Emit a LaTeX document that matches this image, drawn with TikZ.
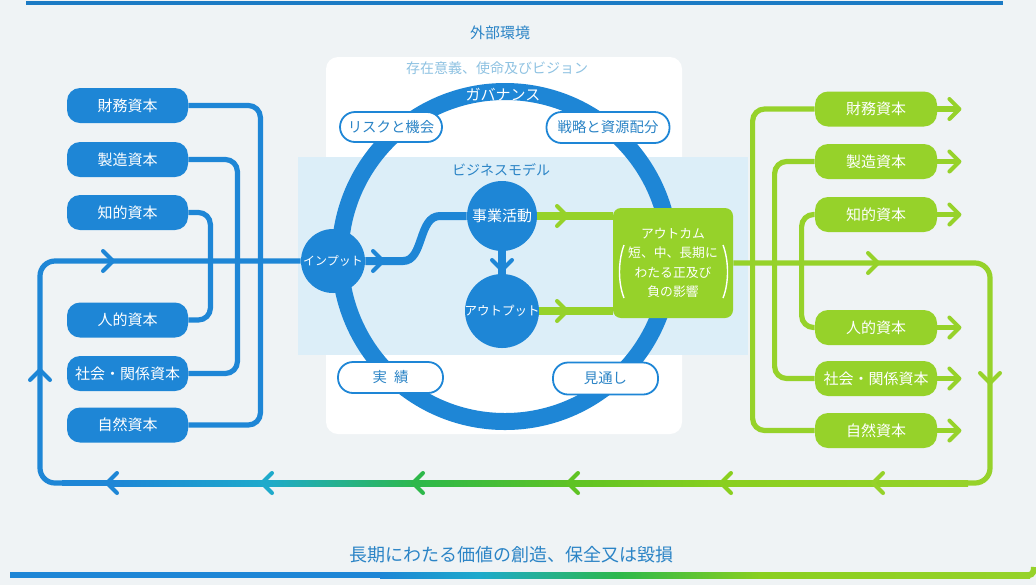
\documentclass[tikz,border=0pt]{standalone}
\usepackage{fontspec}
\newfontfamily\jp{Noto Sans CJK JP}
\usetikzlibrary{calc}
\definecolor{bg}{HTML}{EFF3F5}
\definecolor{cblue}{HTML}{1E86D6}
\definecolor{ctop}{HTML}{1B7AC4}
\definecolor{clime}{HTML}{96D22A}
\definecolor{ctxt}{HTML}{2B84C6}
\definecolor{clight}{HTML}{8EC2E2}
\definecolor{cpanel}{HTML}{DCEEF8}
\definecolor{cteal}{HTML}{1EAACB}
\definecolor{cgreen}{HTML}{2DB84A}
\definecolor{cyg}{HTML}{5FC324}
\definecolor{clg}{HTML}{8ACF1F}
\tikzset{
  capL/.style={fill=cblue, text=white, rounded corners=6.5pt, minimum width=60.5pt, minimum height=17.5pt, inner sep=0pt, font=\jp\fontsize{7.5pt}{9pt}\selectfont},
  capR/.style={capL, fill=clime, minimum width=61pt},
  bconn/.style={draw=cblue, line width=2.6pt, rounded corners=6pt},
  gconn/.style={draw=clime, line width=2.6pt, rounded corners=6pt},
  govbox/.style={draw=cblue, fill=white, line width=0.9pt, rounded corners=7.5pt, text=ctxt, inner sep=0pt, font=\jp\fontsize{7.2pt}{9pt}\selectfont},
  bigdot/.style={circle, fill=cblue, text=white, inner sep=0pt},
  lbl/.style={inner sep=0pt, text=ctxt},
  chevstyle/.style={line width=2pt, line cap=round, line join=round},
  pics/chevR/.style={code={\draw[chevstyle] (-10,-10) -- (0,0) -- (-10,10);}},
  pics/chevL/.style={code={\draw[chevstyle] (10,-10) -- (0,0) -- (10,10);}},
  pics/chevD/.style={code={\draw[chevstyle] (-10,-10) -- (0,0) -- (10,-10);}},
  pics/chevU/.style={code={\draw[chevstyle] (-10,10) -- (0,0) -- (10,10);}},
}
\begin{document}
\begin{tikzpicture}[x=0.5pt,y=-0.5pt, font=\jp]
\useasboundingbox (0,0) rectangle (1036,585);
\fill[bg] (0,0) rectangle (1036,585);
% top rule
\fill[ctop] (26,1) rectangle (1003,5);
% panels
\fill[white, rounded corners=6pt] (326,57) rectangle (682,434);
\fill[cpanel] (298,157) rectangle (748,355);
% ring
\node[circle, draw=cblue, line width=8.5pt, minimum size=165pt, inner sep=0pt] (ring) at (505,256.5) {};
% texts
\node[lbl, font=\jp\fontsize{7.5pt}{9pt}\selectfont] (gaibu) at (500,33) {外部環境};
\node[lbl, text=clight, font=\jp\fontsize{7pt}{9pt}\selectfont] (sonzai) at (497,68) {存在意義、使命及びビジョン};
\node[lbl, text=white, font=\jp\fontsize{7.5pt}{9pt}\selectfont] (gov) at (503,95) {ガバナンス};
\node[lbl, font=\jp\fontsize{7pt}{9pt}\selectfont] (bm) at (501,170) {ビジネスモデル};
% governance boxes
\node[govbox, minimum width=51pt, minimum height=15pt] (risk) at (391,127) {リスクと機会};
\node[govbox, minimum width=61.5pt, minimum height=15.5pt] (senryaku) at (608,127.5) {戦略と資源配分};
\node[govbox, minimum width=52.5pt, minimum height=15.5pt] (jisseki) at (390.5,377.5) {実\hspace{3.5pt}績};
\node[govbox, minimum width=52.5pt, minimum height=16pt] (mitoshi) at (605.5,378.5) {見通し};
% business model circles
\node[bigdot, minimum size=32pt, font=\jp\fontsize{6pt}{7pt}\selectfont] (inp) at (333,261) {\makebox[0pt]{インプット}};
\node[bigdot, minimum size=35pt, font=\jp\fontsize{7.5pt}{9pt}\selectfont] (jigyo) at (502,216) {\makebox[0pt]{事業活動}};
\node[bigdot, minimum size=37pt, font=\jp\fontsize{6.25pt}{7pt}\selectfont] (output) at (502,311) {\makebox[0pt]{アウトプット}};
% outcome box
\node[fill=clime, rounded corners=4pt, minimum width=60pt, minimum height=55pt, inner sep=0pt, text=white, align=center, font=\jp\fontsize{6.4pt}{9.7pt}\selectfont] (outc) at (673,263) {アウトカム\\短、中、長期に\\わたる正及び\\負の影響};
\draw[white, line width=0.7pt] ($(outc.center)+(-49,-18)$) .. controls ($(outc.center)+(-55,-2)$) and ($(outc.center)+(-55,20)$) .. ($(outc.center)+(-49,35)$);
\draw[white, line width=0.7pt] ($(outc.center)+(50,-18)$) .. controls ($(outc.center)+(56,-2)$) and ($(outc.center)+(56,20)$) .. ($(outc.center)+(50,35)$);
% left capitals
\node[capL] (L1) at (127.5,105.5) {財務資本};
\node[capL] (L2) at (127.5,159.5) {製造資本};
\node[capL] (L3) at (127.5,212.5) {知的資本};
\node[capL] (L4) at (127.5,320) {人的資本};
\node[capL] (L5) at (127.5,373.5) {社会・関係資本};
\node[capL] (L6) at (127.5,425) {自然資本};
\draw[bconn] (L1.east) -- ++(72,0) |- (L6.east);
\draw[bconn] (L2.east) -- ++(49,0) |- (L5.east);
\draw[bconn] (L3.east) -- ++(22,0) |- (L4.east);
% right capitals
\node[capR] (R1) at (876,109) {財務資本};
\node[capR] (R2) at (876,161.5) {製造資本};
\node[capR] (R3) at (876,214.5) {知的資本};
\node[capR] (R4) at (876,327.5) {人的資本};
\node[capR] (R5) at (876,378.5) {社会・関係資本};
\node[capR] (R6) at (876,430.5) {自然資本};
\draw[gconn] (R1.west) -- ++(-62,0) |- (R6.west);
\draw[gconn] (R2.west) -- ++(-40,0) |- (R5.west);
\draw[gconn] (R3.west) -- ++(-13,0) |- (R4.west);
\foreach \r in {R1,R2,R3,R4,R5,R6}{
  \draw[gconn] (\r.east) -- ++(20,0) coordinate (\r tip);
  \pic[clime] at ($(\r tip)+(2,0)$) {chevR};
}
% main loop
\draw[bconn, rounded corners=7.5pt] (inp.west) -- (40,261) -- (40,483) -- (64,483);
\draw[gconn, rounded corners=7.5pt] (outc.east) -- (990,263) -- (990,483) -- (966,483);
\fill[cblue] (62,480) rectangle (114,486);
\shade[left color=cblue, right color=cteal] (113,480) rectangle (268,486);
\shade[left color=cteal, right color=cgreen] (267,480) rectangle (419,486);
\shade[left color=cgreen, right color=cyg] (418,480) rectangle (574,486);
\shade[left color=cyg, right color=clg] (573,480) rectangle (727,486);
\shade[left color=clg, right color=clime] (726,480) rectangle (968,486);
\pic[cblue] at (113,261) {chevR};
\pic[cblue] at (40,370) {chevU};
\pic[clime] at (878,263) {chevR};
\pic[clime] at (990,383) {chevD};
\pic[cblue] at (107,483) {chevL};
\pic[cteal] at (262,483) {chevL};
\pic[cgreen] at (413,483) {chevL};
\pic[cyg] at (568,483) {chevL};
\pic[clg] at (721,483) {chevL};
\pic[clime] at (873,483) {chevL};
% centre connectors
\draw[cblue, line width=4pt] (inp.east) -- (403,261) .. controls (424,261) and (418,216) .. (440,216) -- (jigyo.west);
\pic[cblue] at (383,261) {chevR};
\draw[cblue, line width=4pt] (jigyo.south) -- (output.north);
\pic[cblue] at (502,270) {chevD};
\draw[clime, line width=3.6pt] (jigyo.east) -- (jigyo.east -| outc.west);
\draw[clime, line width=3.6pt] (output.east) -- (output.east -| outc.west);
\pic[clime] at (567,216) {chevR};
\pic[clime] at (567,311) {chevR};
% bottom text and rule
\node[lbl, font=\jp\fontsize{9pt}{11pt}\selectfont] (value) at (511,555) {長期にわたる価値の創造、保全又は毀損};
\fill[cblue] (10,572) rectangle (381,578);
\shade[left color=cblue, right color=cteal] (380,572) rectangle (481,578);
\shade[left color=cteal, right color=cgreen] (480,572) rectangle (621,578);
\shade[left color=cgreen, right color=clg] (620,572) rectangle (761,578);
\shade[left color=clg, right color=clime] (760,572) rectangle (1030,578);
\draw[clime, line width=3pt] (1029,575) to[out=0, in=-90] (1034,567);
\end{tikzpicture}
\end{document}
